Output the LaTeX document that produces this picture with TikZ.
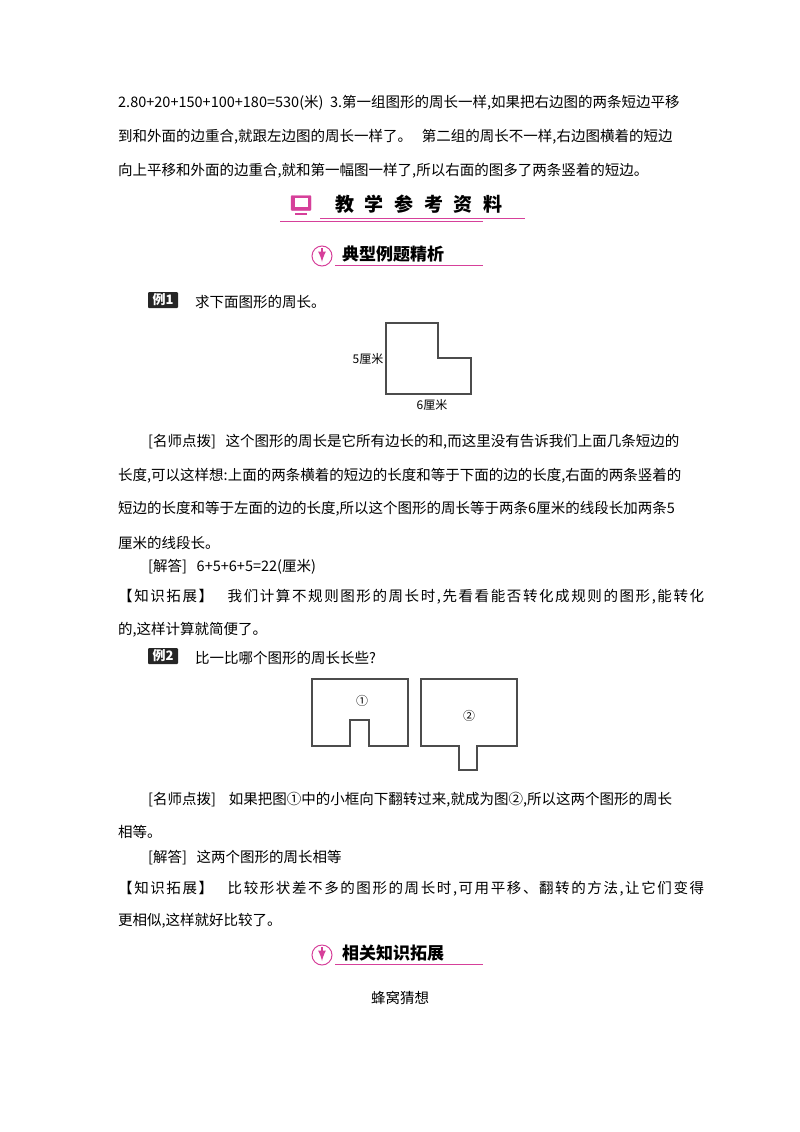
\documentclass[tikz,border=0pt]{standalone}
\usepackage{fontspec}
\newfontfamily\cjk{Noto Sans CJK SC}
\newfontfamily\cjksp[LetterSpace=11]{Noto Sans CJK SC}
\definecolor{pk}{HTML}{D6409A}
\begin{document}
\begin{tikzpicture}[x=1pt,y=-1pt,
  tx/.style={anchor=west,inner sep=0pt,font=\cjk\fontsize{14.5}{17}\selectfont},
  txs/.style={anchor=west,inner sep=0pt,font=\cjksp\fontsize{14.5}{17}\selectfont},
  fig/.style={draw=black!70,line width=1.2pt},
  lab/.style={inner sep=0pt,font=\fontsize{12}{14}\selectfont\cjk},
  tag/.style={fill=black!85,text=white,inner sep=0pt,minimum width=30pt,minimum height=16pt,rounded corners=1pt,font=\cjk\bfseries\fontsize{13}{15}\selectfont}]
\useasboundingbox (0,0) rectangle (800,1132);
\node[tx] (l1) at (118,103) {2.80+20+150+100+180=530(米)\ \ 3.第一组图形的周长一样,如果把右边图的两条短边平移};
\node[tx] (l2) at (118,137) {到和外面的边重合,就跟左边图的周长一样了。\ \ \ 第二组的周长不一样,右边图横着的短边};
\node[tx] (l3) at (118,171) {向上平移和外面的边重合,就和第一幅图一样了,所以右面的图多了两条竖着的短边。};
% banner 1
\draw[pk,line width=0.8pt] (320,218) -- (525,218);
\draw[pk,line width=0.8pt] (280,221) -- (483,221);
\node[draw=pk,fill=pk,minimum width=20pt,minimum height=15pt,inner sep=0pt,rounded corners=1pt] (ic) at (301,203) {};
\node[fill=white,minimum width=13pt,minimum height=9pt,inner sep=0pt] at (301,202.5) {};
\draw[pk,line width=1.5pt] (295,214) -- (307,214);
\node[anchor=west,inner sep=0pt,font=\cjk\bfseries\fontsize{19}{22}\selectfont] (b1) at (335,204) {教\,\, 学\,\, 参\,\, 考\,\, 资\,\, 料};
% banner 2
\draw[pk,line width=0.8pt] (335,265) -- (483,265);
\node[circle,draw=pk,line width=1pt,minimum size=20pt,inner sep=0pt] (c2) at (322,256) {};
\draw[pk,line width=2.5pt,-latex] (322,248) -- (322,262);
\node[anchor=west,inner sep=0pt,font=\cjk\bfseries\fontsize{17}{20}\selectfont] (b2) at (342,254) {典型例题精析};
% ex1
\node[tag] (e1) at (163,300) {例1};
\node[tx] (q1) at (195,302) {求下面图形的周长。};
\draw[fig] (386,323) -- (438,323) -- (438,358) -- (471,358) -- (471,394) -- (386,394) -- cycle;
\node[lab] (f5) at (368,359) {5厘米};
\node[lab] (f6) at (432,405) {6厘米};
\node[tx] (p1) at (148,442) {[名师点拨]\ \ \ 这个图形的周长是它所有边长的和,而这里没有告诉我们上面几条短边的};
\node[tx] (p2) at (118,476) {长度,可以这样想:上面的两条横着的短边的长度和等于下面的边的长度,右面的两条竖着的};
\node[tx] (p3) at (118,509) {短边的长度和等于左面的边的长度,所以这个图形的周长等于两条6厘米的线段长加两条5};
\node[tx] (p4) at (118,543) {厘米的线段长。};
\node[tx] (a1) at (148,567) {[解答]\ \ \ 6+5+6+5=22(厘米)};
\node[txs] (k1) at (118,597) {【知识拓展】\ \ \ 我们计算不规则图形的周长时,先看看能否转化成规则的图形,能转化};
\node[tx] (k2) at (118,630) {的,这样计算就简便了。};
% ex2
\node[tag] (e2) at (163,656) {例2};
\node[tx] (q2) at (195,658) {比一比哪个图形的周长长些?};
\draw[fig] (312,679) -- (408,679) -- (408,746) -- (369,746) -- (369,720) -- (350,720) -- (350,746) -- (312,746) -- cycle;
\node[lab] (n1) at (362,701) {①};
\draw[fig] (421,679) -- (517,679) -- (517,746) -- (477,746) -- (477,770) -- (459,770) -- (459,746) -- (421,746) -- cycle;
\node[lab] (n2) at (469,716) {②};
\node[tx] (p5) at (148,800) {[名师点拨]\ \ \ \ 如果把图①中的小框向下翻转过来,就成为图②,所以这两个图形的周长};
\node[tx] (p6) at (118,832) {相等。};
\node[tx] (a2) at (148,858) {[解答]\ \ \ 这两个图形的周长相等};
\node[txs] (k3) at (118,889) {【知识拓展】\ \ \ 比较形状差不多的图形的周长时,可用平移、翻转的方法,让它们变得};
\node[tx] (k4) at (118,921) {更相似,这样就好比较了。};
% banner 3
\draw[pk,line width=0.8pt] (335,964) -- (483,964);
\node[circle,draw=pk,line width=1pt,minimum size=20pt,inner sep=0pt] (c3) at (322,955) {};
\draw[pk,line width=2.5pt,-latex] (322,947) -- (322,961);
\node[anchor=west,inner sep=0pt,font=\cjk\bfseries\fontsize{17}{20}\selectfont] (b3) at (342,953) {相关知识拓展};
\node[tx,anchor=center] (t) at (400,998) {蜂窝猜想};
\end{tikzpicture}
\end{document}
